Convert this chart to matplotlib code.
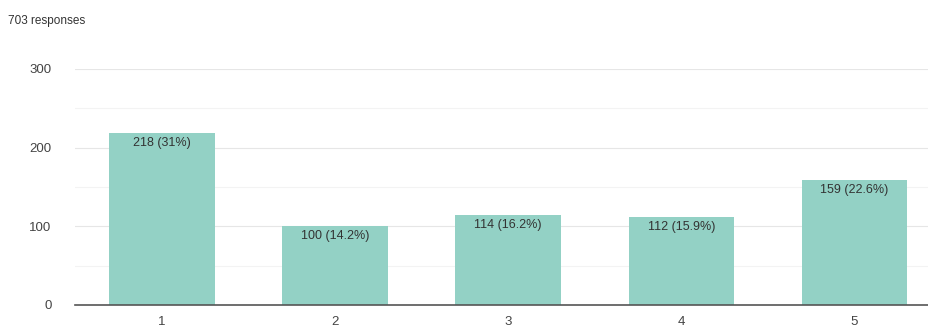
import numpy as np
import matplotlib.pyplot as plt

plt.rcParams['font.family'] = ['Liberation Sans', 'DejaVu Sans']

categories = ['1', '2', '3', '4', '5']
counts = [218, 100, 114, 112, 159]
percents = ['31%', '14.2%', '16.2%', '15.9%', '22.6%']
title = '703 responses'

fig = plt.figure(figsize=(9.29, 3.30), dpi=100)
ax = fig.add_axes([0.081, 0.076, 0.919, 0.715])

x = np.arange(1, len(categories) + 1)
bars = ax.bar(x, counts, width=0.61, color='#93d1c5', zorder=2)

for xi, c, p in zip(x, counts, percents):
    ax.text(xi, c - 5, f'{c} ({p})', ha='center', va='top', fontsize=9,
            color='#333333', zorder=3)

ax.set_xlim(0.5, 5.43)
ax.set_ylim(0, 300)
ax.set_yticks([0, 100, 200, 300])
ax.set_yticks([50, 150, 250], minor=True)
ax.set_xticks(x)
ax.set_xticklabels(categories)
ax.grid(axis='y', which='major', color='#e6e6e6', linewidth=0.8, zorder=0)
ax.grid(axis='y', which='minor', color='#f3f3f3', linewidth=0.8, zorder=0)
ax.tick_params(axis='both', which='both', length=0, labelsize=9.5, colors='#444444')
ax.tick_params(axis='y', pad=17)
ax.tick_params(axis='x', pad=8)
for s in ['top', 'right', 'left']:
    ax.spines[s].set_visible(False)
ax.spines['bottom'].set_color('#555555')
ax.spines['bottom'].set_linewidth(1.2)
ax.spines['bottom'].set_zorder(4)

fig.text(0.009, 0.935, title, fontsize=8.5, color='#333333', ha='left', va='center')

fig.savefig('out.png', dpi=100, facecolor='white')
